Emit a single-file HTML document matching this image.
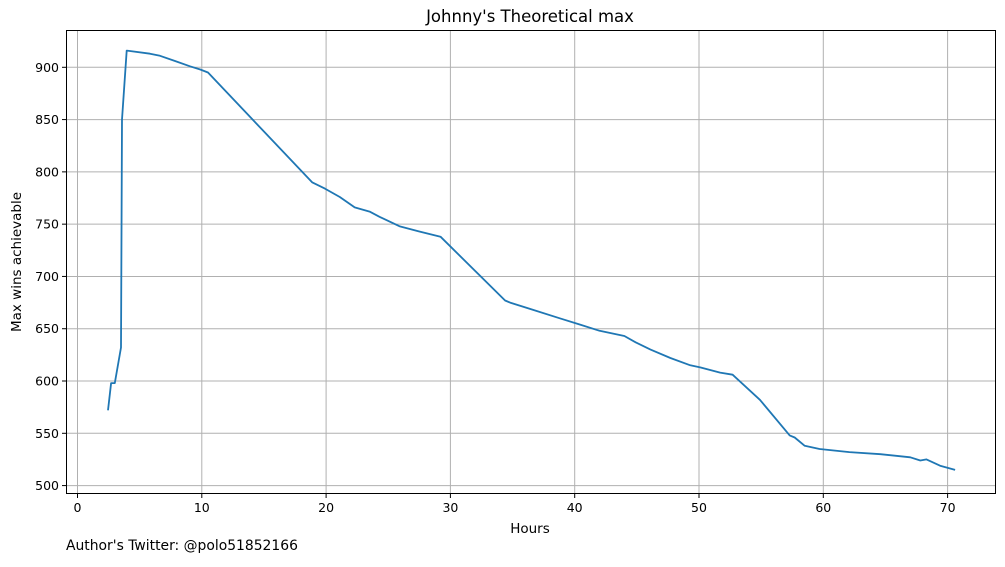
<!DOCTYPE html>
<html><head><meta charset="utf-8"><style>
body{margin:0;background:#fff;font-family:"Liberation Sans","DejaVu Sans",sans-serif}
svg text{font-family:"DejaVu Sans","Liberation Sans",sans-serif;font-size:12.5px;fill:#000}
</style></head><body>
<svg width="1005" height="562" viewBox="0 0 1005 562">
<g id="grid"></g><g id="axes"></g><path id="line" fill="none" stroke="#1f77b4" stroke-width="1.8" stroke-linejoin="round"/>
<rect x="66.5" y="30.5" width="929" height="463" fill="none" stroke="#000" stroke-width="1"/>
<text x="530" y="22" text-anchor="middle" style="font-size:16.5px">Johnny's Theoretical max</text>
<text x="530" y="533" text-anchor="middle" style="font-size:13.5px">Hours</text>
<text transform="translate(21,262) rotate(-90)" text-anchor="middle" style="font-size:13.5px">Max wins achievable</text>
<text x="66" y="550" style="font-size:13.9px">Author's Twitter: @polo51852166</text>
</svg>
<script>
const hours=[2.45,2.7,3.0,3.5,3.58,3.96,5.83,6.64,7.84,9.05,9.85,10.5,18.87,19.9,21.1,22.3,23.5,24.3,25.9,27.5,29.2,34.4,34.8,36.4,38.8,40.4,42.0,44.0,44.9,46.1,47.7,49.3,50.1,51.7,52.7,54.9,57.3,57.7,58.5,59.7,62.1,64.6,67.0,67.8,68.3,69.4,70.6];
const wins=[572,598,598,632,850,916,913,911,906,901,898,895,790,784,776,766,762,757,748,743,738,677,675,669,660,654,648,643,637,630,622,615,613,608,606,582,548,546,538,535,532,530,527,524,525,519,515];
const xTicks=[0,10,20,30,40,50,60,70];
const yTicks=[500,550,600,650,700,750,800,850,900];
const xs=h=>77.5+h*12.43, ys=v=>67.3+(900-v)*1.0457;
const NS='http://www.w3.org/2000/svg';
const grid=document.getElementById('grid'),axes=document.getElementById('axes');
function mk(tag,at,parent){const e=document.createElementNS(NS,tag);for(const k in at)e.setAttribute(k,at[k]);parent.appendChild(e);return e;}
xTicks.forEach(t=>{const x=xs(t);
const g=mk('line',{x1:x,x2:x,y1:31,y2:493,stroke:'#b0b0b0','stroke-width':1},grid);


mk('line',{x1:x,x2:x,y1:494,y2:498,stroke:'#000'},axes);
const tx=mk('text',{x:x,y:512,'text-anchor':'middle'},axes);tx.textContent=t;

});
yTicks.forEach(t=>{const y=ys(t);
const g=mk('line',{x1:67,x2:995,y1:y,y2:y,stroke:'#b0b0b0','stroke-width':1},grid);


mk('line',{x1:62,x2:66,y1:y,y2:y,stroke:'#000'},axes);
const tx=mk('text',{x:59,y:y+4.5,'text-anchor':'end'},axes);tx.textContent=t;

});
const l=document.getElementById('line');
l.setAttribute('d',hours.map((h,i)=>(i?'L':'M')+xs(h).toFixed(1)+','+ys(wins[i]).toFixed(1)).join(''));


</script>
</body></html>
